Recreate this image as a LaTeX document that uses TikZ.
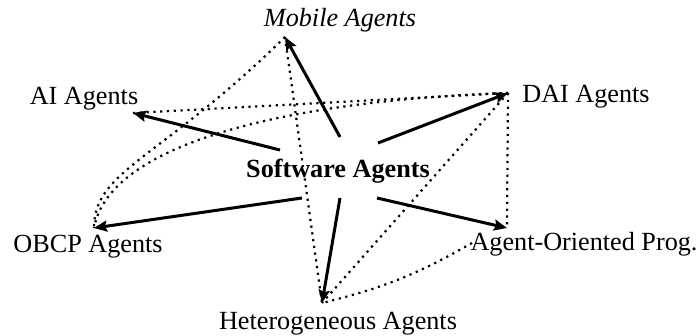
\documentclass[tikz,border=0pt]{standalone}
\usepackage{fontspec}
\setmainfont{Liberation Serif}
\usetikzlibrary{arrows.meta}

\tikzset{
  lbl/.style={inner sep=0pt, anchor=base, font=\fontsize{13.1}{15}\selectfont},
  spoke/.style={line width=1.5pt, -{Stealth[length=6.5pt,width=5.5pt,inset=1pt]}},
  link/.style={line width=1.1pt, dash pattern=on 1.1pt off 2.3pt},
}

\begin{document}
\begin{tikzpicture}[x=0.5pt, y=0.5pt]
\useasboundingbox (0,0) rectangle (700,336);

% labels
\node[lbl] (soft)   at (338,158) {\bfseries Software Agents};
\node[lbl] (mobile) at (340,309) {\itshape Mobile Agents};
\node[lbl] (ai)     at (84,231)  {AI Agents};
\node[lbl] (dai)    at (586,233) {DAI Agents};
\node[lbl] (obcp)   at (88,83)   {OBCP Agents};
\node[lbl] (aop)    at (584,85)  {Agent-Oriented Prog.};
\node[lbl] (het)    at (338,6)   {Heterogeneous Agents};

% points where the lines meet each label
\coordinate (mobP)  at (285,299);
\coordinate (aiP)   at (133,223);
\coordinate (daiP)  at (508,243);
\coordinate (obcpP) at (94,108);
\coordinate (aopP)  at (507,108);
\coordinate (aopL)  at (472,93);
\coordinate (hetP)  at (322,33);

% spokes leave from round the centre label
\coordinate (sMob)  at (340,199);
\coordinate (sAi)   at (280,186);
\coordinate (sDai)  at (378,193);
\coordinate (sObcp) at (302,138);
\coordinate (sHet)  at (340,138);
\coordinate (sAop)  at (377,138);

\draw[spoke] (sMob) -- (mobP);
\draw[spoke] (sAi) -- (aiP);
\draw[spoke] (sDai) -- (daiP);
\draw[spoke] (sObcp) -- (obcpP);
\draw[spoke] (sHet) -- (hetP);
\draw[spoke] (sAop) -- (aopP);

% dotted relations
\draw[link] (aiP) -- (daiP);
\draw[link] (mobP) -- (hetP);
\draw[link] (daiP) -- (hetP);
\draw[link] (daiP) -- (aopP);
\draw[link] (mobP) .. controls +(-125,-123) and +(0,58) .. (obcpP);
\draw[link] (daiP) .. controls +(-208,-7) and +(16,88) .. (obcpP);
\draw[link] (aopL) to[bend left=8] (hetP);
\end{tikzpicture}
\end{document}
